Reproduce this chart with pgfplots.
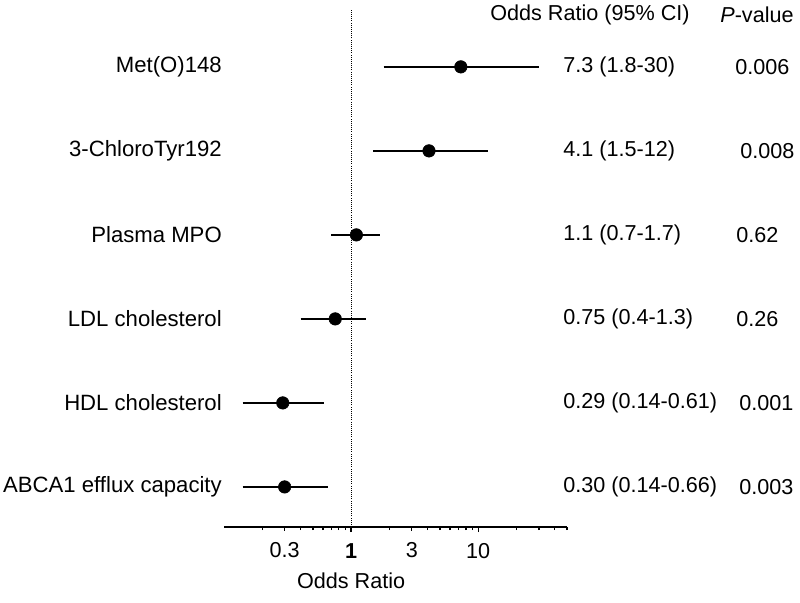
\documentclass[border=0pt]{standalone}
\usepackage{fontspec}
\setmainfont{Liberation Sans}
\usepackage{pgfplots}
\pgfplotsset{compat=1.18}
\newcommand{\f}{\fontsize{16.2}{19}\selectfont}
\newcommand{\fy}{\fontsize{16.6}{19}\selectfont}
\begin{document}
\begin{tikzpicture}
\begin{axis}[
  scale only axis,
  width=257.25pt, height=387.75pt,
  xmode=log,
  xmin=0.1, xmax=50,
  ymin=0.524, ymax=6.679,
  axis x line*=bottom,
  axis y line*=left,
  y axis line style={draw=none},
  x axis line style={line width=1.4pt},
  ytick={1,2,3,4,5,6},
  yticklabels={ABCA1 efflux capacity, HDL cholesterol, LDL cholesterol, Plasma MPO, 3-ChloroTyr192, Met(O)148},
  ytick style={draw=none},
  yticklabel style={font=\fy, anchor=east, xshift=2.5pt},
  xtick={1,10},
  xticklabels={\textbf{1},10},
  extra x ticks={0.3,3},
  extra x tick labels={0.3,3},
  extra x tick style={major tick length=3pt, tick style={line width=1pt}},
  minor xtick={0.2,0.4,0.5,0.6,0.7,0.8,0.9,2,4,5,6,7,8,9,20,30,40,50},
  tick align=outside,
  major tick length=4pt,
  minor tick length=2.5pt,
  xtick style={line width=1pt, black},
  xticklabel style={font=\f, yshift=-8.5pt},
  /pgf/number format/assume math mode=true,
  clip=false,
  nodes={inner sep=0pt},
]
\addplot[black, densely dotted, line width=0.6pt] coordinates {(1,0.524) (1,6.679)};
% CI lines
\addplot[black, line width=1.5pt] coordinates {(1.8,6) (30,6)};
\addplot[black, line width=1.5pt] coordinates {(1.5,5) (12,5)};
\addplot[black, line width=1.5pt] coordinates {(0.7,4) (1.7,4)};
\addplot[black, line width=1.5pt] coordinates {(0.4,3) (1.3,3)};
\addplot[black, line width=1.5pt] coordinates {(0.14,2) (0.61,2)};
\addplot[black, line width=1.5pt] coordinates {(0.14,1) (0.66,1)};
% point estimates
\addplot[only marks, mark=*, mark size=4.7pt, black] coordinates {(7.3,6) (4.1,5) (1.1,4) (0.75,3) (0.29,2) (0.30,1)};
% text columns
\node[anchor=west, font=\f, inner sep=0pt] at (rel axis cs:{(490-224)/343},{(527-15)/517}) {Odds Ratio (95\% CI)};
\node[anchor=west, font=\f, inner sep=0pt] at (rel axis cs:{(720-224)/343},{(527-15)/517}) {\textit{P}-value};
\node[anchor=west, font=\f, inner sep=0pt] at (rel axis cs:{(563-224)/343},{(527-67)/517}) {7.3 (1.8-30)};
\node[anchor=west, font=\f, inner sep=0pt] at (rel axis cs:{(563-224)/343},{(527-151)/517}) {4.1 (1.5-12)};
\node[anchor=west, font=\f, inner sep=0pt] at (rel axis cs:{(563-224)/343},{(527-235)/517}) {1.1 (0.7-1.7)};
\node[anchor=west, font=\f, inner sep=0pt] at (rel axis cs:{(563-224)/343},{(527-319)/517}) {0.75 (0.4-1.3)};
\node[anchor=west, font=\f, inner sep=0pt] at (rel axis cs:{(563-224)/343},{(527-403)/517}) {0.29 (0.14-0.61)};
\node[anchor=west, font=\f, inner sep=0pt] at (rel axis cs:{(563-224)/343},{(527-487)/517}) {0.30 (0.14-0.66)};
\node[anchor=west, font=\f, inner sep=0pt] at (rel axis cs:{(735-224)/343},{(527-67)/517}) {0.006};
\node[anchor=west, font=\f, inner sep=0pt] at (rel axis cs:{(740-224)/343},{(527-151)/517}) {0.008};
\node[anchor=west, font=\f, inner sep=0pt] at (rel axis cs:{(736-224)/343},{(527-235)/517}) {0.62};
\node[anchor=west, font=\f, inner sep=0pt] at (rel axis cs:{(736-224)/343},{(527-319)/517}) {0.26};
\node[anchor=west, font=\f, inner sep=0pt] at (rel axis cs:{(739-224)/343},{(527-403)/517}) {0.001};
\node[anchor=west, font=\f, inner sep=0pt] at (rel axis cs:{(739-224)/343},{(527-487)/517}) {0.003};
\node[font=\f, inner sep=0pt] at (axis cs:1,0.524) [yshift={-54*0.75pt}] {Odds Ratio};
\coordinate (bbsw) at (rel axis cs:-0.653,-0.147);
\coordinate (bbne) at (rel axis cs:1.679,1.019);
\end{axis}
\pgfresetboundingbox
\path[use as bounding box] (bbsw) rectangle (bbne);
\end{tikzpicture}
\end{document}
